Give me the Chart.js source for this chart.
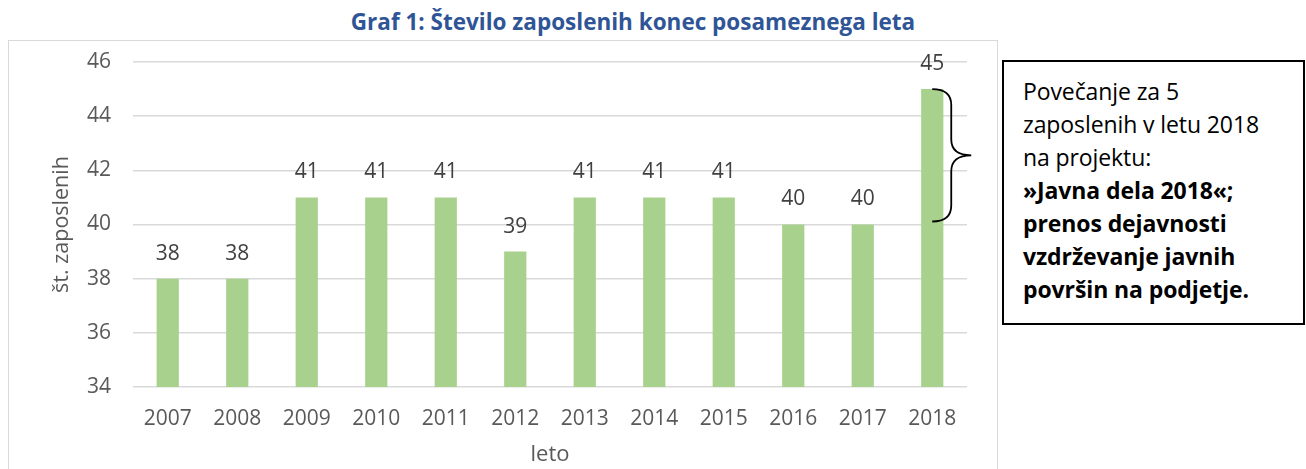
<!DOCTYPE html>
<html>
<head>
<meta charset="utf-8">
<script src="https://cdn.jsdelivr.net/npm/chart.js@4.4.0/dist/chart.umd.min.js"></script>
<style>
  html, body { margin: 0; padding: 0; background: #fff; }
  #wrap { position: relative; width: 1306px; height: 469px; overflow: hidden; font-family: "Open Sans", sans-serif; }
  #frame { position: absolute; left: 8px; top: 40px; width: 988px; height: 500px; border: 1px solid #d9d9d9; }
  #title { position: absolute; left: 283px; width: 700px; top: 6px; text-align: center; font-weight: bold; font-size: 22.5px; color: #2f5597; }
  #chart { position: absolute; left: 0; top: 0; }
  #note { position: absolute; left: 1002px; top: 60px; width: 280px; height: 248px; border: 2px solid #000; background: #fff;
          padding: 13px 0 0 19px; font-size: 23px; line-height: 33px; color: #000; letter-spacing: -0.1px; }
  #note b { font-weight: bold; }
</style>
</head>
<body>
<div id="wrap">
  <div id="frame"></div>
  <div id="title">Graf 1: Število zaposlenih konec posameznega leta</div>
  <canvas id="chart" width="1306" height="469"></canvas>
  <div id="note">
    Povečanje za 5<br>
    zaposlenih v letu 2018<br>
    na projektu:<br>
    <b>»Javna dela 2018«;</b><br>
    <b>prenos dejavnosti</b><br>
    <b>vzdrževanje javnih</b><br>
    <b>površin na podjetje.</b>
  </div>
</div>
<script>
const years = ['2007', '2008', '2009', '2010', '2011', '2012', '2013', '2014', '2015', '2016', '2017', '2018']
const employees = [38, 38, 41, 41, 41, 39, 41, 41, 41, 40, 40, 45]
const yTicks = [34, 36, 38, 40, 42, 44, 46]

const tickColor = '#595959'
const barColor = '#a9d18e'

// value labels above each bar
const valueLabels = {
  id: 'valueLabels',
  afterDatasetsDraw(chart) {
    const ctx = chart.ctx
    const meta = chart.getDatasetMeta(0)
    ctx.save()
    ctx.font = '21px "Open Sans"'
    ctx.fillStyle = '#404040'
    ctx.textAlign = 'center'
    ctx.textBaseline = 'middle'
    meta.data.forEach((bar, i) => {
      ctx.fillText(String(employees[i]), bar.x, bar.y - 25)
    })
    ctx.restore()
  }
}

// curly brace next to the last bar, spanning the increase from 2017 to 2018
const brace = {
  id: 'brace',
  afterDraw(chart) {
    const ctx = chart.ctx
    const y = chart.scales.y
    const last = employees.length - 1
    const bar = chart.getDatasetMeta(0).data[last]
    const yTop = y.getPixelForValue(employees[last])
    const yBot = y.getPixelForValue(employees[last - 1]) - 3
    const yMid = (yTop + yBot) / 2
    const x0 = bar.x
    const xv = bar.x + 19
    const xt = bar.x + 39
    const r = 16

    ctx.save()
    ctx.strokeStyle = '#000'
    ctx.lineWidth = 1.8
    ctx.beginPath()
    ctx.moveTo(x0, yTop)
    ctx.quadraticCurveTo(xv, yTop, xv, yTop + r)
    ctx.lineTo(xv, yMid - r)
    ctx.quadraticCurveTo(xv, yMid, xt, yMid)
    ctx.moveTo(xt, yMid)
    ctx.quadraticCurveTo(xv, yMid, xv, yMid + r)
    ctx.lineTo(xv, yBot - r)
    ctx.quadraticCurveTo(xv, yBot, x0, yBot)
    ctx.stroke()
    ctx.restore()
  }
}

const ctx = document.getElementById('chart').getContext('2d')
new Chart(ctx, {
  type: 'bar',
  data: {
    labels: years,
    datasets: [{
      data: employees,
      backgroundColor: barColor,
      borderWidth: 0,
      barPercentage: 0.32,
      categoryPercentage: 1
    }]
  },
  options: {
    responsive: false,
    animation: false,
    events: [],
    layout: {
      padding: { left: 49, top: 62, right: 339, bottom: 1 }
    },
    plugins: {
      legend: { display: false },
      tooltip: { enabled: false }
    },
    scales: {
      x: {
        grid: { display: false, drawTicks: false },
        border: { display: false },
        ticks: {
          color: tickColor,
          font: { family: 'Open Sans', size: 21 },
          padding: 19,
          maxRotation: 0
        },
        title: {
          display: true,
          text: 'leto',
          color: tickColor,
          font: { family: 'Open Sans', size: 22 },
          padding: 0
        },
        afterFit(scale) { scale.height = 81 }
      },
      y: {
        min: yTicks[0],
        max: yTicks[yTicks.length - 1],
        afterBuildTicks(scale) {
          scale.ticks = yTicks.map(v => ({ value: v }))
        },
        grid: { color: '#d9d9d9', lineWidth: 1.5, drawTicks: false },
        border: { display: false },
        ticks: {
          color: tickColor,
          font: { family: 'Open Sans', size: 21 },
          padding: 22
        },
        title: {
          display: true,
          text: 'št. zaposlenih',
          color: tickColor,
          font: { family: 'Open Sans', size: 21.5 },
          padding: 0
        },
        afterFit(scale) { scale.width = 84 }
      }
    }
  },
  plugins: [valueLabels, brace]
})
</script>
</body>
</html>
